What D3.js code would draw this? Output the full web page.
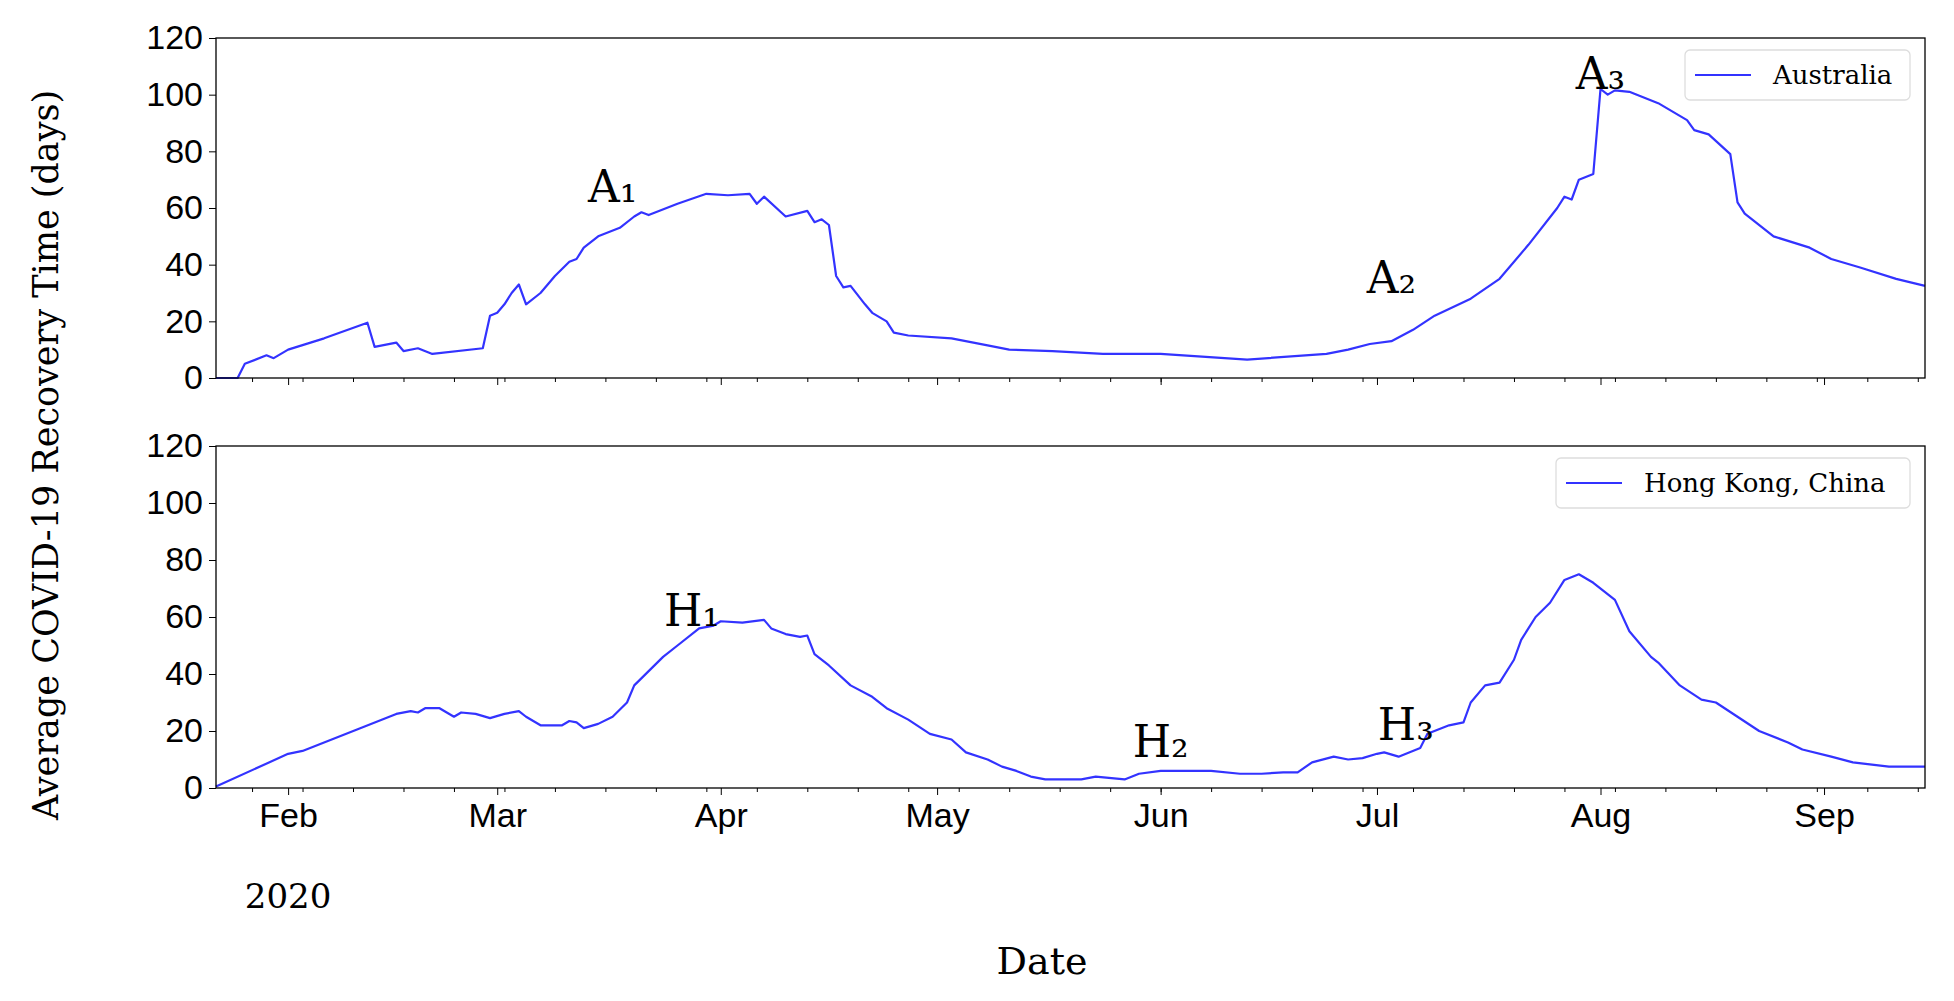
<!DOCTYPE html>
<html>
<head>
<meta charset="utf-8">
<script src="https://cdn.jsdelivr.net/npm/d3@7"></script>
<style>
  body { margin: 0; background: #fff; }
  svg { display: block; }
</style>
</head>
<body>
<div id="chart"></div>
<script>
// day offsets are days since 2020-02-01
const ausDays = [-10, -7, -6, -3, -2, 0, 5, 11, 12, 15, 16, 18, 20, 27, 28, 29, 30, 31, 32, 33, 35, 37, 39, 40, 41, 43, 46, 48, 49, 50, 54, 58, 61, 64, 65, 66, 69, 72, 73, 74, 75, 76, 77, 78, 80, 81, 83, 84, 86, 92, 97, 100, 106, 113, 121, 133, 144, 147, 150, 153, 156, 159, 164, 168, 172, 176, 177, 178, 179, 181, 182, 183, 184, 186, 190, 194, 195, 197, 200, 201, 202, 206, 211, 214, 218, 223, 227];
const ausValues = [0, 0, 5, 8, 7, 10, 14, 19.5, 11, 12.5, 9.5, 10.5, 8.5, 10.5, 22, 23, 26, 30, 33, 26, 30, 36, 41, 42, 46, 50, 53, 57, 58.5, 57.5, 61.5, 65, 64.5, 65, 61.5, 64, 57, 59, 55, 56, 54, 36, 32, 32.5, 26, 23, 20, 16, 15, 14, 11.5, 10, 9.5, 8.5, 8.5, 6.5, 8.5, 10, 12, 13, 17, 22, 28, 35, 47, 60, 64, 63, 70, 72, 102, 100, 101.5, 101, 97, 91, 87.5, 86, 79, 62, 58, 50, 46, 42, 39, 35, 32.5];
const hkDays = [-10, 0, 2, 10, 15, 17, 18, 19, 21, 23, 24, 26, 28, 30, 32, 33, 35, 38, 39, 40, 41, 43, 45, 47, 48, 50, 52, 54, 57, 59, 60, 63, 66, 67, 69, 71, 72, 73, 75, 78, 81, 83, 86, 89, 92, 94, 97, 99, 101, 103, 105, 110, 112, 116, 118, 121, 128, 132, 135, 138, 140, 142, 145, 147, 149, 151, 152, 154, 157, 158, 161, 163, 164, 166, 168, 170, 171, 173, 175, 177, 179, 181, 184, 186, 189, 190, 193, 196, 198, 201, 204, 208, 210, 214, 217, 222, 227];
const hkValues = [0.5, 12, 13, 21, 26, 27, 26.5, 28, 28, 25, 26.5, 26, 24.5, 26, 27, 25, 22, 22, 23.5, 23, 21, 22.5, 25, 30, 36, 41, 46, 50, 56, 57, 58.5, 58, 59, 56, 54, 53, 53.5, 47, 43, 36, 32, 28, 24, 19, 17, 12.5, 10, 7.5, 6, 4, 3, 3, 4, 3, 5, 6, 6, 5, 5, 5.5, 5.5, 9, 11, 10, 10.5, 12, 12.5, 11, 14, 19, 22, 23, 30, 36, 37, 45, 52, 60, 65, 73, 75, 72, 66, 55, 46, 44, 36, 31, 30, 25, 20, 16, 13.5, 11, 9, 7.5, 7.5];
const yTicks = [0, 20, 40, 60, 80, 100, 120];
const ausNotes = [{ label: 'A₁', day: 45, y: 62 }, { label: 'A₂', day: 153, y: 30 }, { label: 'A₃', day: 182, y: 102 }];
const hkNotes = [{ label: 'H₁', day: 56, y: 57 }, { label: 'H₂', day: 121, y: 11 }, { label: 'H₃', day: 155, y: 17 }];

const width = 1954;
const height = 1001;
const base = new Date(2020, 1, 1);
const toDate = (d) => d3.timeDay.offset(base, d);

const svg = d3.select('#chart').append('svg')
  .attr('width', width).attr('height', height)
  .attr('font-family', 'DejaVu Serif');

const x = d3.scaleTime()
  .domain([toDate(-10), toDate(227)])
  .range([216, 1925]);

const panels = [
  { top: 38, bottom: 378, days: ausDays, values: ausValues, name: 'Australia', notes: ausNotes, legendX: 1685, legendW: 225, labels: false },
  { top: 446, bottom: 788, days: hkDays, values: hkValues, name: 'Hong Kong, China', notes: hkNotes, legendX: 1556, legendW: 354, labels: true },
];

panels.forEach((p) => {
  const y = d3.scaleLinear().domain([0, 120]).range([p.bottom, p.top]);
  const g = svg.append('g');

  const yAxis = g.append('g')
    .attr('transform', `translate(216,0)`)
    .call(d3.axisLeft(y).tickValues(yTicks).tickSize(7).tickPadding(6));
  yAxis.selectAll('text').attr('font-size', 34).attr('fill', '#000');
  yAxis.select('.domain').remove();

  const xAxis = g.append('g')
    .attr('transform', `translate(0,${p.bottom})`)
    .call(d3.axisBottom(x).ticks(d3.timeMonth.every(1)).tickSize(7).tickPadding(8)
      .tickFormat(p.labels ? d3.timeFormat('%b') : ''));
  xAxis.selectAll('text').attr('font-size', 34).attr('fill', '#000');
  xAxis.select('.domain').remove();
  g.append('g')
    .attr('transform', `translate(0,${p.bottom})`)
    .call(d3.axisBottom(x).ticks(d3.timeMonday.every(1)).tickSize(4).tickFormat(''))
    .select('.domain').remove();

  if (p.labels) {
    g.append('text')
      .attr('x', x(toDate(0))).attr('y', p.bottom + 120)
      .attr('text-anchor', 'middle').attr('font-size', 34)
      .text('2020');
  }

  const line = d3.line()
    .x((d, i) => x(toDate(p.days[i])))
    .y((d) => y(d));
  g.append('path')
    .datum(p.values)
    .attr('fill', 'none')
    .attr('stroke', '#3333ff')
    .attr('stroke-width', 2.2)
    .attr('stroke-linejoin', 'round')
    .attr('d', line);

  g.append('rect')
    .attr('x', 216).attr('y', p.top)
    .attr('width', 1925 - 216).attr('height', p.bottom - p.top)
    .attr('fill', 'none').attr('stroke', '#000').attr('stroke-width', 1.3);

  g.selectAll('.note')
    .data(p.notes)
    .join('text')
    .attr('x', (d) => x(toDate(d.day)))
    .attr('y', (d) => y(d.y))
    .attr('text-anchor', 'middle')
    .attr('font-size', 44)
    .text((d) => d.label);

  const leg = g.append('g').attr('transform', `translate(${p.legendX},${p.top + 12})`);
  leg.append('rect')
    .attr('width', p.legendW).attr('height', 50).attr('rx', 5)
    .attr('fill', '#fff').attr('stroke', '#ddd').attr('stroke-width', 1.3);
  leg.append('line')
    .attr('x1', 10).attr('x2', 66).attr('y1', 25).attr('y2', 25)
    .attr('stroke', '#3333ff').attr('stroke-width', 2.2);
  leg.append('text')
    .attr('x', 88).attr('y', 34).attr('font-size', 26)
    .text(p.name);
});

svg.append('text')
  .attr('transform', 'translate(58,455) rotate(-90)')
  .attr('text-anchor', 'middle').attr('font-size', 35)
  .text('Average COVID-19 Recovery Time (days)');

svg.append('text')
  .attr('x', 1042).attr('y', 974)
  .attr('text-anchor', 'middle').attr('font-size', 38)
  .text('Date');
</script>
</body>
</html>
